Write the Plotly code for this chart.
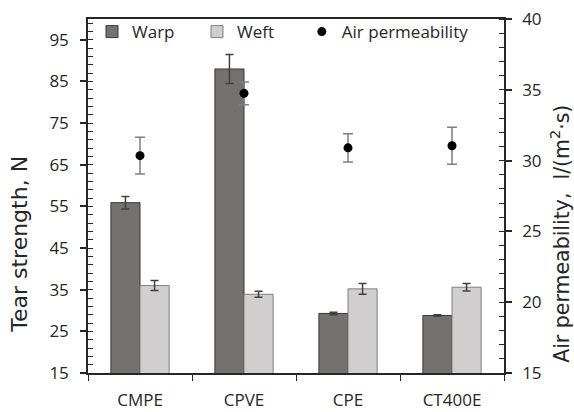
import plotly.graph_objects as go

categories = ["CMPE", "CPVE", "CPE", "CT400E"]
warp = [55.9, 88.0, 29.3, 28.8]
warp_err = [1.5, 3.5, 0.3, 0.2]
weft = [36.0, 33.9, 35.2, 35.6]
weft_err = [1.2, 0.7, 1.3, 0.9]
air = [30.35, 34.75, 30.9, 31.05]
air_err = [1.3, 0.8, 1.0, 1.3]

FONT = "Open Sans"
TITLE_FONT = "DejaVu Sans"
TXT = "#262626"

fig = go.Figure()
fig.add_trace(go.Bar(
    x=categories, y=warp, name="Warp", legend="legend",
    marker=dict(color="#767171", line=dict(color="#3a3838", width=1)),
    error_y=dict(type="data", array=warp_err, color="#404040", thickness=1.5, width=4),
))
fig.add_trace(go.Bar(
    x=categories, y=weft, name="Weft", legend="legend2",
    marker=dict(color="#d0cece", line=dict(color="#7f7f7f", width=1)),
    error_y=dict(type="data", array=weft_err, color="#404040", thickness=1.5, width=4),
))
fig.add_trace(go.Scatter(
    x=categories, y=air, name="Air permeability", mode="markers", yaxis="y2", legend="legend3",
    marker=dict(color="black", size=9, symbol="circle"),
    error_y=dict(type="data", array=air_err, color="#7f7f7f", thickness=1.5, width=5),
))

axis_line = "#262626"


def leg(x):
    return dict(orientation="h", x=x, y=1.014, xanchor="left", yanchor="top",
                font=dict(size=17, family=FONT, color=TXT), bgcolor="rgba(0,0,0,0)")


fig.update_layout(
    width=574, height=412,
    margin=dict(l=88, r=70, t=19, b=39, autoexpand=False),
    paper_bgcolor="white", plot_bgcolor="white",
    font=dict(family=FONT, size=17, color=TXT),
    barmode="group", bargap=0.44, bargroupgap=0,
    showlegend=True,
    legend=leg(0.0096), legend2=leg(0.262), legend3=leg(0.514),
    xaxis=dict(type="category", range=[-0.5, 3.5], showgrid=False,
               showline=True, linecolor=axis_line, linewidth=1.5, mirror=True,
               ticks="outside", ticklen=6, tickwidth=1.2, tickcolor=axis_line,
               tickson="boundaries", tickfont=dict(size=17), zeroline=False,
               ticklabelstandoff=11),
    xaxis2=dict(overlaying="x", range=[-0.5, 3.5], showgrid=False, showline=False,
                tickvals=[0.5, 1.5, 2.5], ticks="inside", ticklen=6, tickwidth=1.2,
                tickcolor=axis_line, showticklabels=False, zeroline=False, side="bottom"),
    yaxis=dict(range=[15, 100], tick0=15, dtick=10, showgrid=False, zeroline=False,
               showline=True, linecolor=axis_line, linewidth=1.5,
               ticks="outside", ticklen=6, tickwidth=1.5, tickcolor=axis_line,
               minor=dict(tick0=15, dtick=2, ticks="inside", ticklen=5, tickwidth=1, tickcolor=axis_line),
               tickfont=dict(size=17), ticklabelstandoff=8),
    yaxis3=dict(overlaying="y", range=[15, 100], tick0=15, dtick=10, showgrid=False,
                zeroline=False, showline=False, ticks="inside", ticklen=6, tickwidth=1.5,
                tickcolor=axis_line, showticklabels=False, side="left"),
    yaxis2=dict(overlaying="y", side="right", range=[15, 40], tick0=15, dtick=5,
                showgrid=False, zeroline=False, showline=True, linecolor=axis_line, linewidth=1.5,
                ticks="outside", ticklen=6, tickwidth=1.5, tickcolor=axis_line,
                minor=dict(tick0=15, dtick=1, ticks="inside", ticklen=5, tickwidth=1, tickcolor=axis_line),
                tickfont=dict(size=17), ticklabelstandoff=7),
    yaxis4=dict(overlaying="y", side="right", range=[15, 40], tick0=15, dtick=5, showgrid=False,
                zeroline=False, showline=False, ticks="inside", ticklen=6, tickwidth=1.5,
                tickcolor=axis_line, showticklabels=False),
    annotations=[
        dict(text="Tear strength, N", xref="paper", yref="paper", x=-0.1635, y=0.365,
             xanchor="center", yanchor="middle", textangle=-90, showarrow=False,
             font=dict(size=22, family=TITLE_FONT, color=TXT)),
        dict(text="Air permeability,  l/(m<sup>2</sup>·s)", xref="paper", yref="paper",
             x=1.137, y=0.393, xanchor="center", yanchor="middle", textangle=-90,
             showarrow=False, font=dict(size=20.5, family=TITLE_FONT, color=TXT)),
    ],
)

fig.write_html("out.html", config={"displayModeBar": False},
               post_script="document.body.style.margin='0px';")
